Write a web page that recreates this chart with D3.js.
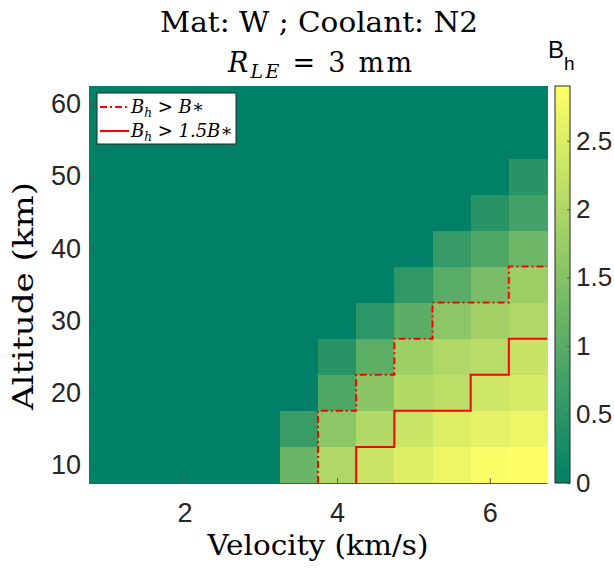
<!DOCTYPE html>
<html lang="en">
<head>
<meta charset="UTF-8">
<title>Bh map</title>
<script src="https://d3js.org/d3.v7.min.js"></script>
<style>
    body { margin: 0; background: #fff; }
    svg { display: block; }
    .tick text { font-family: "Liberation Sans", Arial, sans-serif; font-size: 27px; fill: #262626; }
    .tick line, .domain { stroke: #555; }
    .serif { font-family: "DejaVu Serif", "Liberation Serif", serif; fill: #000; }
</style>
</head>
<body>
<svg width="614" height="568"></svg>
<script>
// velocity (km/s) columns, altitude (km) rows
let velocity = [1, 1.5, 2, 2.5, 3, 3.5, 4, 4.5, 5, 5.5, 6, 6.5];
let altitude = [10, 15, 20, 25, 30, 35, 40, 45, 50, 55, 60];
// B_h values, one row per altitude (bottom to top)
let bh = [
    [0, 0, 0, 0, 0, 1.2, 2.0, 2.3, 2.52, 2.7, 2.85, 2.9],
    [0, 0, 0, 0, 0, 0.65, 1.6, 2.03, 2.3, 2.5, 2.6, 2.7],
    [0, 0, 0, 0, 0, 0, 0.9, 1.57, 2.05, 2.15, 2.35, 2.45],
    [0, 0, 0, 0, 0, 0, 0.45, 1.07, 1.8, 2.0, 2.1, 2.27],
    [0, 0, 0, 0, 0, 0, 0, 0.5, 1.05, 1.6, 1.85, 2.0],
    [0, 0, 0, 0, 0, 0, 0, 0, 0.55, 1.0, 1.4, 1.8],
    [0, 0, 0, 0, 0, 0, 0, 0, 0, 0.6, 0.9, 1.25],
    [0, 0, 0, 0, 0, 0, 0, 0, 0, 0, 0.45, 0.75],
    [0, 0, 0, 0, 0, 0, 0, 0, 0, 0, 0, 0.45],
    [0, 0, 0, 0, 0, 0, 0, 0, 0, 0, 0, 0],
    [0, 0, 0, 0, 0, 0, 0, 0, 0, 0, 0, 0]
];
let bStar = 1.45;
let xTicks = [2, 4, 6];
let yTicks = [10, 20, 30, 40, 50, 60];
let cTicks = [0, 0.5, 1, 1.5, 2, 2.5];

let svg = d3.select('svg');
let plot = {left: 89, right: 547, top: 86, bottom: 483};

let xScale = d3.scaleLinear().domain([0.75, 6.75]).range([plot.left, plot.right]);
let yScale = d3.scaleLinear().domain([7.5, 62.5]).range([plot.bottom, plot.top]);
let bMax = d3.max(bh, r => d3.max(r));
// MATLAB "summer" colormap
let color = d3.scaleLinear().domain([0, bMax]).range(['#008066', '#ffff66']);

// cells
let cells = [];
bh.forEach((row, i) => row.forEach((val, j) => cells.push({v: velocity[j], h: altitude[i], val: val})));
svg.append('g').attr('shape-rendering', 'crispEdges').selectAll('rect')
    .data(cells)
    .enter().append('rect')
    .attr('x', d => xScale(d.v - 0.25))
    .attr('y', d => yScale(d.h + 2.5))
    .attr('width', d => xScale(d.v + 0.25) - xScale(d.v - 0.25) + 0.5)
    .attr('height', d => yScale(d.h - 2.5) - yScale(d.h + 2.5) + 0.5)
    .attr('fill', d => color(d.val));

// threshold step lines
function stepLine(thr) {
    let pts = [];
    velocity.forEach((v, j) => {
        let top = null;
        altitude.forEach((h, i) => { if (bh[i][j] > thr) top = h; });
        if (top === null) return;
        if (pts.length === 0) pts.push([v - 0.25, 7.5]);
        pts.push([v - 0.25, top + 2.5]);
        pts.push([v + 0.25, top + 2.5]);
    });
    return pts;
}
let line = d3.line().x(d => xScale(d[0])).y(d => yScale(d[1]));
svg.append('path').attr('d', line(stepLine(bStar)))
    .attr('fill', 'none').attr('stroke', 'red').attr('stroke-width', 2)
    .attr('stroke-dasharray', '7,3,2,3');
svg.append('path').attr('d', line(stepLine(1.5 * bStar)))
    .attr('fill', 'none').attr('stroke', 'red').attr('stroke-width', 2);

// axes
svg.append('g')
    .attr('transform', 'translate(0,' + plot.bottom + ')')
    .call(d3.axisBottom(xScale).tickValues(xTicks).tickFormat(d3.format('')).tickSizeInner(-5).tickSizeOuter(0).tickPadding(20));
svg.append('g')
    .attr('transform', 'translate(' + plot.left + ',0)')
    .call(d3.axisLeft(yScale).tickValues(yTicks).tickSizeInner(-5).tickSizeOuter(0).tickPadding(8));

// colorbar
let cb = {left: 555, right: 570};
let cScale = d3.scaleLinear().domain([0, bMax]).range([plot.bottom, plot.top]);
let grad = svg.append('defs').append('linearGradient')
    .attr('id', 'cgrad').attr('x1', 0).attr('y1', 1).attr('x2', 0).attr('y2', 0);
grad.append('stop').attr('offset', 0).attr('stop-color', color(0));
grad.append('stop').attr('offset', 1).attr('stop-color', color(bMax));
svg.append('rect')
    .attr('x', cb.left).attr('y', plot.top)
    .attr('width', cb.right - cb.left).attr('height', plot.bottom - plot.top)
    .attr('fill', 'url(#cgrad)').attr('stroke', '#262626').attr('stroke-width', 1);
let cAxis = svg.append('g')
    .attr('transform', 'translate(' + cb.right + ',0)')
    .call(d3.axisRight(cScale).tickValues(cTicks).tickFormat(d3.format('')).tickSizeInner(-3).tickSizeOuter(0).tickPadding(6));
cAxis.select('.domain').remove();
cAxis.selectAll('.tick text').style('font-size', '26px');
let cbl = svg.append('text').attr('x', 548).attr('y', 58)
    .style('font-family', '"Liberation Sans", Arial, sans-serif').style('font-size', '24px').attr('fill', '#000');
cbl.append('tspan').text('B');
cbl.append('tspan').attr('dy', 12).style('font-size', '19px').text('h');

// legend
let lg = svg.append('g');
lg.append('rect').attr('x', 97).attr('y', 93).attr('width', 139).attr('height', 51)
    .attr('fill', '#fff').attr('stroke', '#262626').attr('stroke-width', 1);
lg.append('line').attr('x1', 100).attr('x2', 129).attr('y1', 107).attr('y2', 107)
    .attr('stroke', 'red').attr('stroke-width', 2).attr('stroke-dasharray', '7,3,2,3');
lg.append('line').attr('x1', 100).attr('x2', 129).attr('y1', 131).attr('y2', 131)
    .attr('stroke', 'red').attr('stroke-width', 2);
let legendText = [['B', 'h', ' > B\u2217'], ['B', 'h', ' > 1.5B\u2217']];
legendText.forEach((t, i) => {
    let tx = lg.append('text').attr('class', 'serif').attr('x', 131).attr('y', 113 + i * 24)
        .style('font-size', '18px').style('font-style', 'italic');
    tx.append('tspan').text(t[0]);
    tx.append('tspan').attr('dy', 4).style('font-size', '12px').text(t[1]);
    tx.append('tspan').attr('dy', -4).text(t[2]);
});

// titles
svg.append('text').attr('class', 'serif').attr('x', 319).attr('y', 32)
    .attr('text-anchor', 'middle').style('font-size', '27px')
    .attr('textLength', 318).attr('lengthAdjust', 'spacingAndGlyphs').text('Mat: W ; Coolant: N2');
let t2 = svg.append('text').attr('class', 'serif').attr('x', 320).attr('y', 72)
    .attr('text-anchor', 'middle').style('font-size', '27px')
    .attr('textLength', 184).attr('lengthAdjust', 'spacing');
t2.append('tspan').style('font-style', 'italic').text('R');
t2.append('tspan').attr('dy', 6).style('font-style', 'italic').style('font-size', '19px').text('LE');
t2.append('tspan').attr('dy', -6).text(' = 3 mm');

svg.append('text').attr('class', 'serif').attr('x', 318).attr('y', 555)
    .attr('text-anchor', 'middle').style('font-size', '27px')
    .attr('textLength', 221).attr('lengthAdjust', 'spacingAndGlyphs').text('Velocity (km/s)');
svg.append('text').attr('class', 'serif')
    .attr('transform', 'translate(33,' + 296 + ') rotate(-90)')
    .attr('text-anchor', 'middle').style('font-size', '27px')
    .attr('textLength', 228).attr('lengthAdjust', 'spacingAndGlyphs').text('Altitude (km)');
</script>
</body>
</html>
